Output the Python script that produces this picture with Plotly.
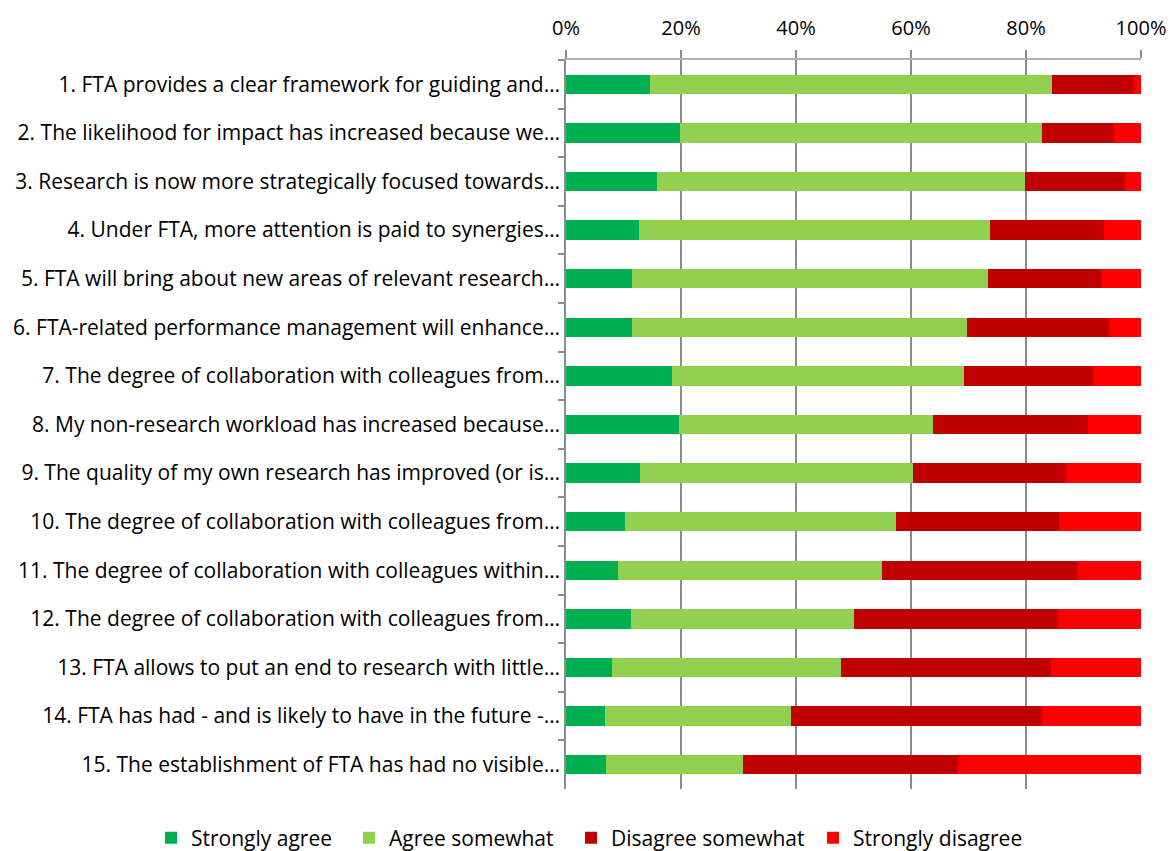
import plotly.graph_objects as go

categories = [
    "1. FTA provides a clear framework for guiding and…",
    "2. The likelihood for impact has increased because we…",
    "3. Research is now more strategically focused towards…",
    "4. Under FTA, more attention is paid to synergies…",
    "5. FTA will bring about new areas of relevant research…",
    "6. FTA-related performance management will enhance…",
    "7. The degree of collaboration with colleagues from…",
    "8. My non-research workload has increased because…",
    "9. The quality of my own research has improved (or is…",
    "10. The degree of collaboration with colleagues from…",
    "11. The degree of collaboration with colleagues within…",
    "12. The degree of collaboration with colleagues from…",
    "13. FTA allows to put an end to research with little…",
    "14. FTA has had - and is likely to have in the future -…",
    "15. The establishment of FTA has had no visible…",
]

strongly_agree = [14.6, 19.8, 15.8, 12.7, 11.4, 11.5, 18.4, 19.7, 12.9, 10.3, 9.0, 11.3, 8.0, 6.8, 7.0]
agree_somewhat = [70.0, 62.9, 64.1, 61.0, 62.0, 58.2, 50.8, 44.1, 47.5, 47.1, 46.0, 38.7, 39.9, 32.4, 23.8]
disagree_somewhat = [14.1, 12.6, 17.4, 19.9, 19.7, 24.8, 22.5, 26.9, 26.6, 28.4, 34.1, 35.6, 36.5, 43.5, 37.4]
strongly_disagree = [1.3, 4.7, 2.7, 6.4, 6.9, 5.5, 8.3, 9.3, 13.0, 14.2, 10.9, 14.4, 15.6, 17.3, 31.8]

x_ticks = [0, 20, 40, 60, 80, 100]
x_tick_labels = ["0%", "20%", "40%", "60%", "80%", "100%"]

series_names = ["Strongly agree", "Agree somewhat", "Disagree somewhat", "Strongly disagree"]
series_values = [strongly_agree, agree_somewhat, disagree_somewhat, strongly_disagree]
series_colors = ["#00B050", "#92D050", "#C00000", "#FF0000"]
legend_widths = [153, 177, 197, 180]

FONT = "'Open Sans', sans-serif"

fig = go.Figure()
for name, vals, color, lw in zip(series_names, series_values, series_colors, legend_widths):
    fig.add_trace(go.Bar(
        y=categories, x=vals, name=name, orientation="h",
        marker=dict(color=color, line=dict(width=0)),
        legendwidth=lw,
    ))

fig.update_layout(
    width=1170, height=851,
    barmode="stack",
    bargap=0.6,
    plot_bgcolor="white", paper_bgcolor="white",
    margin=dict(l=566, r=29, t=60, b=62, autoexpand=False),
    font=dict(family=FONT, size=20, color="#000000"),
    showlegend=True,
    legend=dict(
        orientation="h", x=-0.7217, xanchor="left",
        y=-0.0672, yanchor="middle", font=dict(size=21),
        traceorder="normal", itemwidth=30,
    ),
    xaxis=dict(
        side="top", range=[0, 100], tickvals=x_ticks,
        ticktext=x_tick_labels, tickfont=dict(size=20),
        ticklabelstandoff=7,
        showgrid=True, gridcolor="#8c8c8c", gridwidth=1.5,
        ticks="outside", ticklen=8, tickcolor="#8c8c8c", tickwidth=1.5,
        showline=True, linecolor="#b0b0b0", linewidth=1.5,
        zeroline=False, fixedrange=True, automargin=False,
    ),
    yaxis=dict(
        autorange="reversed", type="category",
        tickfont=dict(size=21),
        ticks="outside", ticklen=6, tickcolor="#8c8c8c", tickwidth=1.5,
        tickson="boundaries",
        showline=True, linecolor="#8c8c8c", linewidth=1.5,
        showgrid=False, fixedrange=True, automargin=False,
    ),
)

fig.write_html("out.html")
